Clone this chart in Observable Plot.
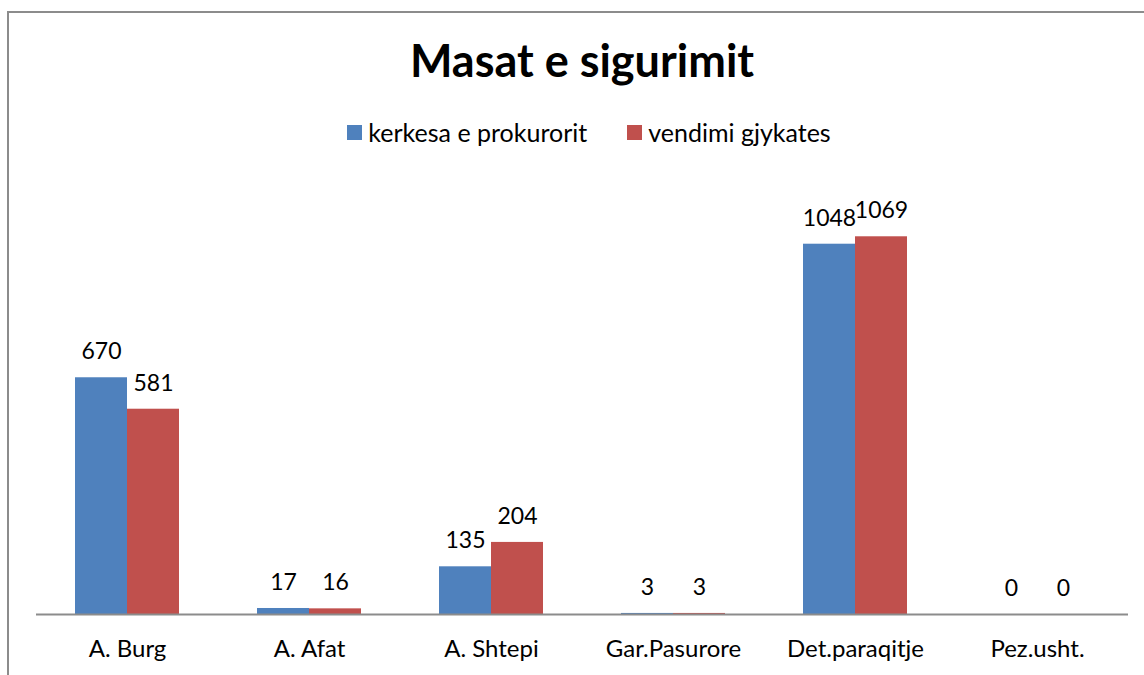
<!DOCTYPE html>
<html>
<head>
<meta charset="utf-8">
<script src="https://cdn.jsdelivr.net/npm/d3@7"></script>
<script src="https://cdn.jsdelivr.net/npm/@observablehq/plot@0.6"></script>
<style>
  html, body { margin: 0; padding: 0; width: 1144px; height: 675px; overflow: hidden; background: #fff; font-family: Lato, "Open Sans", sans-serif; }
  #frame { position: absolute; left: 7px; top: 11px; width: 1200px; height: 700px; border: 2px solid #8c8c8c; box-sizing: border-box; }
  #title { position: absolute; left: 10px; width: 1144px; top: 33px; text-align: center; font-size: 45px; font-weight: bold; color: #000; line-height: 1.2; }
  #legend { position: absolute; left: 17px; width: 1144px; top: 117px; display: flex; justify-content: center; gap: 40px; font-size: 25px; color: #000; line-height: 1.2; }
  #legend .item { display: flex; align-items: center; gap: 6px; }
  #legend .sw { width: 15px; height: 15px; display: inline-block; }
  #chart { position: absolute; left: 0; top: 160px; }
</style>
</head>
<body>
<div id="frame"></div>
<div id="title">Masat e sigurimit</div>
<div id="legend"></div>
<div id="chart"></div>
<script>
const categories = ["A. Burg", "A. Afat", "A. Shtepi", "Gar.Pasurore", "Det.paraqitje", "Pez.usht."];
const series = ["kerkesa e prokurorit", "vendimi gjykates"];
const kerkesa = [670, 17, 135, 3, 1048, 0];
const vendimi = [581, 16, 204, 3, 1069, 0];
const colors = ["#4F81BD", "#C0504D"];

const data = [];
categories.forEach((c, i) => {
  data.push({cat: c, series: series[0], value: kerkesa[i]});
  data.push({cat: c, series: series[1], value: vendimi[i]});
});

const legend = document.getElementById("legend");
series.forEach((s, i) => {
  const it = document.createElement("div");
  it.className = "item";
  it.innerHTML = `<span class="sw" style="background:${colors[i]}"></span><span>${s}</span>`;
  legend.appendChild(it);
});

const chart = Plot.plot({
  width: 1144,
  height: 515,
  marginLeft: 36,
  marginRight: 16,
  marginTop: 30,
  marginBottom: 61,
  style: {fontFamily: "Lato, 'Open Sans', sans-serif", color: "#000", background: "transparent"},
  fx: {domain: categories, padding: 0, label: null},
  x: {domain: series, paddingInner: 0, paddingOuter: 0.75, axis: null},
  y: {domain: [0, 1200], axis: null},
  color: {domain: series, range: colors},
  marks: [
    Plot.barY(data, {fx: "cat", x: "series", y: "value", fill: "series"}),
    Plot.text(data, {fx: "cat", x: "series", y: "value", text: d => String(d.value), dy: -26, fontSize: 23, fill: "#000"}),
    Plot.ruleY([0], {stroke: "#8c8c8c", strokeWidth: 2}),
    Plot.axisFx({anchor: "bottom", tickSize: 0, tickPadding: 25, fontSize: 24, label: null, fill: "#000"})
  ]
});
document.getElementById("chart").appendChild(chart);
</script>
</body>
</html>
